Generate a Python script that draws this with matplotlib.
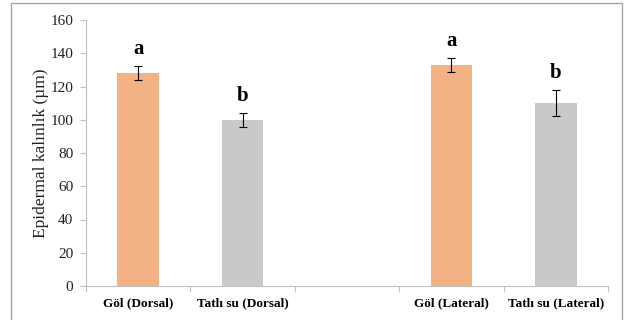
import matplotlib.pyplot as plt
import matplotlib.patches as mpatches
import numpy as np

categories = ["Göl (Dorsal)", "Tatlı su (Dorsal)", "", "Göl (Lateral)", "Tatlı su (Lateral)"]
values = [128, 100, 0, 133, 110]
errors = [4.3, 4.2, 0, 4.2, 8.0]
letters = ["a", "b", "", "a", "b"]
bar_colors = ["#F4B183", "#C9C9C9", "#FFFFFF", "#F4B183", "#C9C9C9"]

plt.rcParams['font.family'] = ['Liberation Serif', 'DejaVu Serif']

fig = plt.figure(figsize=(6.24, 3.2), dpi=100)
ax = fig.add_axes([86 / 624, 1 - 286 / 320, (608 - 86) / 624, (286 - 20) / 320])

x = np.arange(len(categories))
show = [i for i in x if categories[i] != ""]

ax.bar([x[i] for i in show], [values[i] for i in show], width=0.4,
       color=[bar_colors[i] for i in show], zorder=2)
ax.errorbar([x[i] for i in show], [values[i] for i in show], yerr=[errors[i] for i in show],
            fmt="none", ecolor="black", elinewidth=0.8, capsize=3, capthick=0.8, zorder=3)

for i in show:
    ax.text(x[i], values[i] + errors[i] + 4, letters[i], ha="center", va="bottom",
            fontsize=15, fontweight="bold")

ax.set_xlim(-0.5, len(categories) - 0.5)
ax.set_ylim(0, 160)
ax.set_yticks(np.arange(0, 161, 20))
ax.set_xticks(np.arange(-0.5, len(categories), 1))
ax.set_xticklabels([])
ax.set_xticks(x, minor=True)
ax.set_xticklabels(categories, minor=True, fontsize=9.5, fontweight="bold")
ax.tick_params(axis="x", which="minor", length=0, pad=8)
ax.tick_params(axis="x", which="major", length=4, color="#BFBFBF", width=0.8)
ax.tick_params(axis="y", length=4, color="#BFBFBF", width=0.8, labelsize=11, pad=5, labelcolor="#222222")

for side in ["top", "right"]:
    ax.spines[side].set_visible(False)
for side in ["left", "bottom"]:
    ax.spines[side].set_color("#BFBFBF")
    ax.spines[side].set_linewidth(0.8)

ax.set_ylabel("Epidermal kalınlık (µm)", fontsize=12.5, color="#222222", labelpad=1)

border = mpatches.Rectangle((10.5 / 624, -0.05), (621.5 - 10.5) / 624, 1.05 - 3 / 320,
                            transform=fig.transFigure, fill=False, edgecolor="#A6A6A6",
                            linewidth=1.0)
fig.patches.append(border)

fileName = "out.png"
fig.savefig(fileName, dpi=100)
print(f"{fileName} created")
